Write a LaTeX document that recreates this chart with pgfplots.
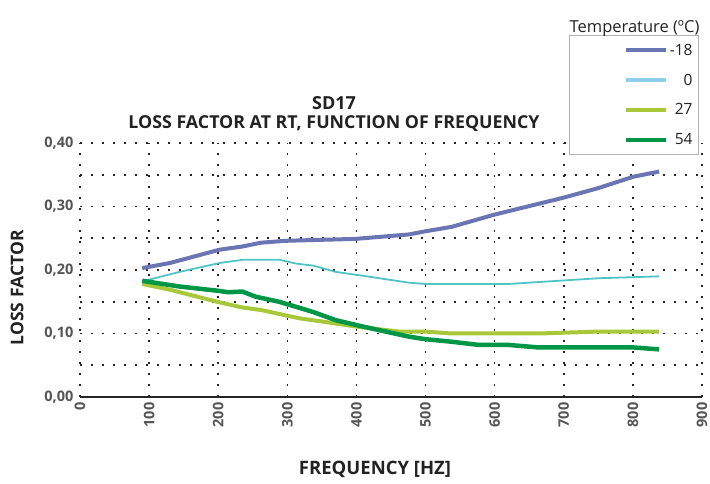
\documentclass[border=0pt]{standalone}
\usepackage{pgfplots}
\pgfplotsset{compat=1.18}
\usepackage{fontspec}
\setmainfont{Open Sans}
\definecolor{c18}{RGB}{106,118,180}
\definecolor{c0}{RGB}{80,196,196}
\definecolor{c0leg}{RGB}{142,206,232}
\definecolor{c27}{RGB}{168,200,58}
\definecolor{c54}{RGB}{0,150,72}
\definecolor{tickgray}{RGB}{85,85,85}
\definecolor{txt}{RGB}{34,34,34}
\begin{document}
\begin{tikzpicture}
\path[use as bounding box] (0,0) rectangle (710pt,484pt);
\begin{axis}[
  at={(80pt,87pt)}, anchor=south west,
  scale only axis, width=622pt, height=254pt,
  xmin=0, xmax=900, ymin=0, ymax=0.4,
  xtick={0,100,200,300,400,500,600,700,800,900},
  ytick={0,0.1,0.2,0.3,0.4},
  minor y tick num=1,
  axis x line*=bottom, axis y line*=left,
  y axis line style={draw=none},
  x axis line style={line width=2.2pt, draw=black!85, -},
  tick style={draw=none},
  major tick length=0pt, minor tick length=0pt,
  xmajorgrids, ymajorgrids, yminorgrids,
  major grid style={draw=black!85, line width=1.6pt, dash pattern=on 1.6pt off 9.4pt},
  minor grid style={draw=black!85, line width=1.6pt, dash pattern=on 1.6pt off 9.4pt},
  /pgf/number format/assume math mode=true,
  yticklabel style={/pgf/number format/fixed, /pgf/number format/fixed zerofill, /pgf/number format/precision=2, /pgf/number format/use comma},
  ticklabel style={font=\fontsize{14.5}{16}\selectfont\bfseries, text=tickgray},
  xticklabel style={rotate=90, anchor=east, xshift=-2pt, /pgf/number format/1000 sep={}},
  yticklabel style={anchor=east, xshift=-3pt},
  xlabel={FREQUENCY [HZ]},
  ylabel={LOSS FACTOR},
  label style={font=\fontsize{17.5}{18}\selectfont\bfseries, text=txt},
  xlabel style={at={(axis description cs:0.4743,0)}, anchor=base, yshift=-78pt, font=\fontsize{18.5}{20}\selectfont\bfseries},
  ylabel style={at={(axis description cs:-0.101,0.43)}, anchor=center},
  legend style={at={(0.9952,1.425)}, anchor=north east, draw=black!30, line width=1pt,
    font=\fontsize{15.5}{18}\selectfont, text=txt, row sep=13pt, inner ysep=6.5pt, inner xsep=4pt},
  legend cell align=right,
  legend image code/.code={\path[draw=none] (-52pt,0pt) -- (0pt,0pt); \draw[#1] (0pt,0pt) -- (40pt,0pt);},
]
\addlegendimage{c18, line width=4pt}
\addlegendentry{-18}
\addlegendimage{c0leg, line width=4pt}
\addlegendentry{0}
\addlegendimage{c27, line width=4pt}
\addlegendentry{27}
\addlegendimage{c54, line width=4pt}
\addlegendentry{54}

\addplot[forget plot, c18, line width=4pt] coordinates {
(90,0.203) (130,0.211) (202,0.232) (235,0.237) (262,0.243) (298,0.246)
(399,0.249) (476,0.256) (500,0.261) (538,0.268) (599,0.287) (700,0.314)
(750,0.329) (801,0.347) (838,0.355)};

\addplot[forget plot, c0, line width=1.8pt] coordinates {
(90,0.182) (144,0.197) (202,0.211) (235,0.216) (289,0.216) (313,0.210)
(337,0.207) (370,0.197) (409,0.191) (476,0.180) (500,0.178) (620,0.178)
(750,0.187) (838,0.190)};

\addplot[forget plot, c27, line width=4pt] coordinates {
(90,0.178) (130,0.169) (202,0.149) (235,0.141) (262,0.137) (317,0.124)
(356,0.118) (399,0.111) (462,0.103) (500,0.103) (538,0.100) (664,0.100)
(750,0.103) (838,0.103)};

\addplot[forget plot, c54, line width=4.5pt] coordinates {
(90,0.183) (144,0.174) (202,0.167) (214,0.165) (235,0.166) (254,0.158)
(288,0.150) (337,0.134) (370,0.121) (409,0.111) (476,0.095) (500,0.091)
(538,0.087) (577,0.082) (620,0.082) (664,0.078) (801,0.078) (838,0.075)};
\end{axis}
\node[font=\fontsize{18}{20}\selectfont\bfseries, text=txt, anchor=base] at (334pt,374.7pt) {SD17};
\node[font=\fontsize{17.8}{20}\selectfont\bfseries, text=txt, anchor=base] at (334pt,355.7pt) {LOSS FACTOR AT RT, FUNCTION OF FREQUENCY};
\node[font=\fontsize{16.5}{18}\selectfont, text=txt, anchor=base east] at (703pt,451pt) {Temperature (ºC)};
\end{tikzpicture}
\end{document}
